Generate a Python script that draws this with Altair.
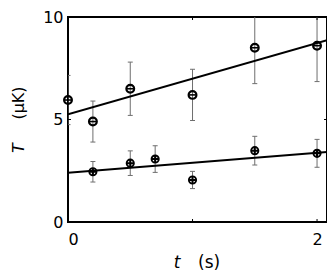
import altair as alt
import pandas as pd

# ---- data ----
t_upper = [0.0, 0.2, 0.5, 1.0, 1.5, 2.0]
T_upper = [5.95, 4.9, 6.5, 6.2, 8.5, 8.6]
err_upper = [1.2, 1.0, 1.3, 1.25, 1.75, 1.75]

t_lower = [0.2, 0.5, 0.7, 1.0, 1.5, 2.0]
T_lower = [2.45, 2.87, 3.07, 2.05, 3.48, 3.35]
err_lower = [0.5, 0.6, 0.65, 0.42, 0.7, 0.68]

fit_t = [0.0, 2.08]
fit_upper = [5.25, 8.87]
fit_lower = [2.40, 3.42]

x_ticks = [0, 1, 2]
y_ticks = [0, 5, 10]

X_DOMAIN = [0, 2.08]
Y_DOMAIN = [0, 10]
W, H = 259, 205
FONT = "DejaVu Sans"

up = pd.DataFrame({"t": t_upper, "T": T_upper,
                   "lo": [v - e for v, e in zip(T_upper, err_upper)],
                   "hi": [v + e for v, e in zip(T_upper, err_upper)]})
lo = pd.DataFrame({"t": t_lower, "T": T_lower,
                   "lo": [v - e for v, e in zip(T_lower, err_lower)],
                   "hi": [v + e for v, e in zip(T_lower, err_lower)]})
fits = pd.DataFrame({"t": fit_t * 2, "T": fit_upper + fit_lower,
                     "series": ["upper"] * 2 + ["lower"] * 2})

xs = alt.Scale(domain=X_DOMAIN, nice=False, zero=False)
ys = alt.Scale(domain=Y_DOMAIN, nice=False, zero=False)
X = alt.X("t:Q", scale=xs,
          axis=alt.Axis(values=x_ticks, title=None, labelPadding=9, format="d"))
Y = alt.Y("T:Q", scale=ys,
          axis=alt.Axis(values=y_ticks, title=None, labelPadding=5, format="d"))

ERR = "#6e6e6e"


def errbars(df):
    base = alt.Chart(df)
    bar = base.mark_rule(color=ERR, strokeWidth=1, clip=True).encode(
        x=alt.X("t:Q", scale=xs), y=alt.Y("lo:Q", scale=ys), y2="hi:Q")
    cap_lo = base.mark_tick(color=ERR, orient="horizontal", size=5, thickness=1,
                            opacity=1, clip=True).encode(
        x=alt.X("t:Q", scale=xs), y=alt.Y("lo:Q", scale=ys))
    cap_hi = base.mark_tick(color=ERR, orient="horizontal", size=5, thickness=1,
                            opacity=1, clip=True).encode(
        x=alt.X("t:Q", scale=xs), y=alt.Y("hi:Q", scale=ys))
    return bar + cap_lo + cap_hi


lines = alt.Chart(fits).mark_line(color="black", strokeWidth=2, clip=True).encode(
    x=X, y=Y, detail="series:N")

up_circ = alt.Chart(up).mark_point(shape="circle", size=60, color="black", opacity=1,
                                    strokeWidth=2.2, filled=False).encode(x=X, y=Y)
up_bar = alt.Chart(up).mark_point(shape="M-1,0H1", size=45, color="black", opacity=1,
                                   strokeWidth=1.6, filled=False).encode(x=X, y=Y)
lo_circ = alt.Chart(lo).mark_point(shape="circle", size=52, color="black", opacity=1,
                                    strokeWidth=1.9, filled=False).encode(x=X, y=Y)
lo_plus = alt.Chart(lo).mark_point(shape="M-1,0H1M0,-1V1", size=45, color="black",
                                    opacity=1, strokeWidth=2, filled=False).encode(x=X, y=Y)

# inward axis ticks on all four sides
xt = pd.DataFrame({"t": x_ticks})
yt = pd.DataFrame({"T": y_ticks})
tick_b = alt.Chart(xt).mark_rule(color="black", strokeWidth=1).encode(
    x=alt.X("t:Q", scale=xs), y=alt.value(H), y2=alt.value(H - 3))
tick_t = alt.Chart(xt).mark_rule(color="black", strokeWidth=1).encode(
    x=alt.X("t:Q", scale=xs), y=alt.value(0), y2=alt.value(3))
tick_l = alt.Chart(yt).mark_rule(color="black", strokeWidth=1).encode(
    y=alt.Y("T:Q", scale=ys), x=alt.value(0), x2=alt.value(3))
tick_r = alt.Chart(yt).mark_rule(color="black", strokeWidth=1).encode(
    y=alt.Y("T:Q", scale=ys), x=alt.value(W), x2=alt.value(W - 3))


# axis titles with italic variable names
def txt(s, x, y, italic=False, angle=0, align="center", size=17):
    return alt.Chart(pd.DataFrame({"s": [s]})).mark_text(
        font=FONT, fontSize=size, color="black", fontStyle="italic" if italic else "normal",
        angle=angle, align=align, baseline="middle").encode(
        text="s:N", x=alt.value(x), y=alt.value(y))


titles = (txt("t", 109, 246, italic=True) + txt("(s)", 130, 246, align="left")
          + txt("T", -49, 131, italic=True, angle=270, size=16)
          + txt("(μK)", -49, 86, angle=270, size=16))

chart = alt.layer(
    errbars(up), errbars(lo), lines, up_circ, up_bar, lo_circ, lo_plus,
    tick_b, tick_t, tick_l, tick_r, titles
).properties(
    width=W, height=H,
    autosize=alt.AutoSizeParams(type="none"),
    padding={"left": 60, "top": 9, "right": 0, "bottom": 50},
).configure_view(
    stroke="black", strokeWidth=2
).configure_axis(
    domain=False, ticks=False, grid=False,
    labelFont=FONT, labelFontSize=16, labelColor="black"
)

chart.save("out.html", embed_options={"renderer": "svg", "actions": False})
